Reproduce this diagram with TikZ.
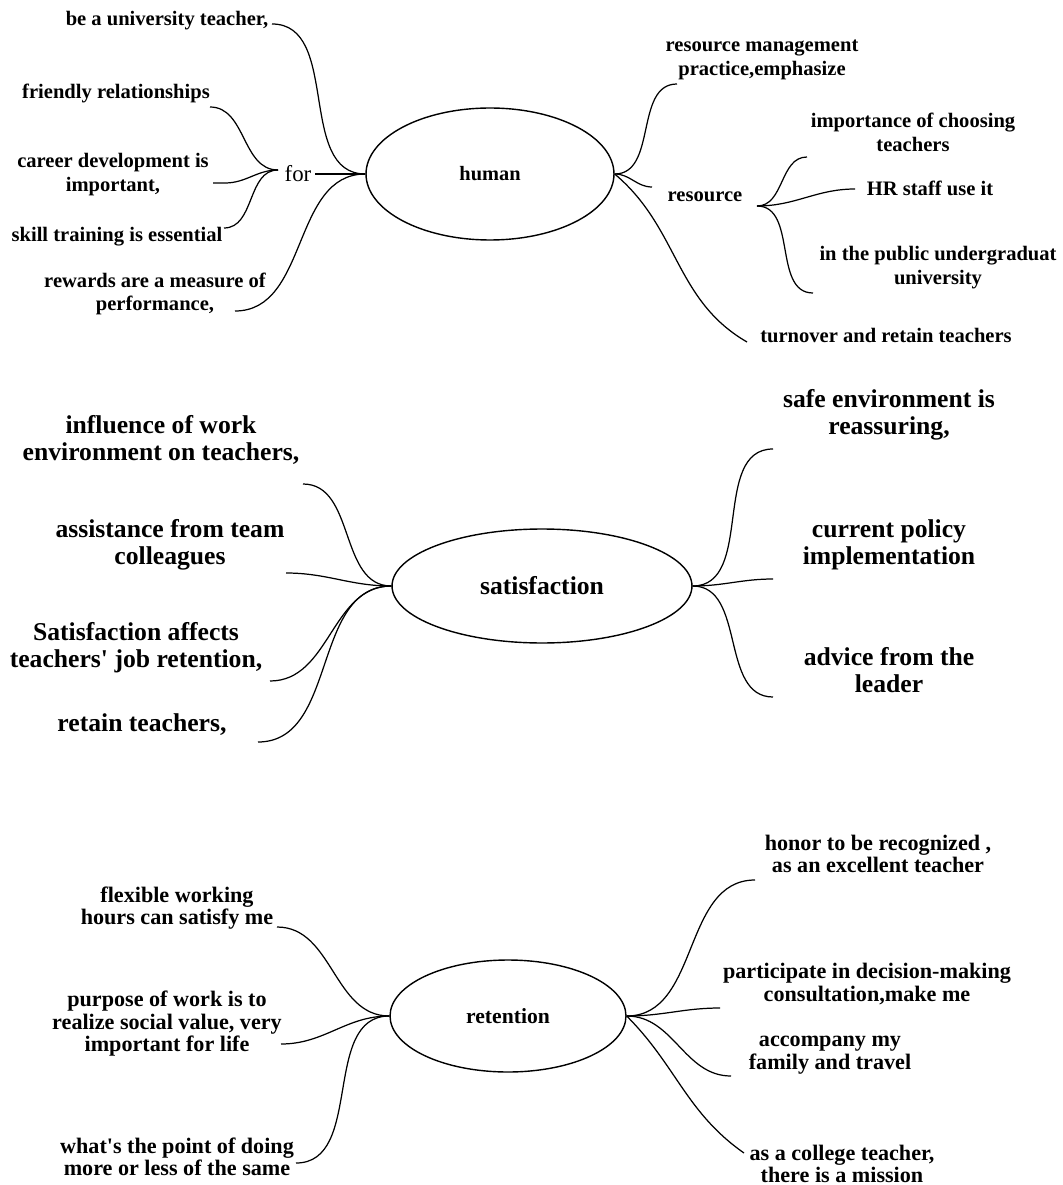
\documentclass[tikz,border=0pt]{standalone}
\usepackage{fontspec}
\setmainfont{Liberation Serif}
\usetikzlibrary{shapes.geometric}
\tikzset{
	hub/.style={draw, ellipse, line width=0.8pt, inner sep=0pt},
	leafA/.style={align=center, font=\fontsize{11.7}{13.6}\selectfont\bfseries},
	leafB/.style={align=center, font=\fontsize{14.6}{15.4}\selectfont\bfseries},
	leafC/.style={align=center, font=\fontsize{12.6}{12.8}\selectfont\bfseries},
	twig/.style={line width=0.7pt},
}

\begin{document}
\begin{tikzpicture}[x=0.02cm, y=-0.02cm]
		%%%%% START %%%%%
		\useasboundingbox (0, 0) rectangle (1062, 1185);
		
		% human
		\node[hub, minimum width=4.96cm, minimum height=2.64cm, font=\fontsize{11.6}{13}\selectfont\bfseries] (hum) at (490, 174) {human};
		
		\node[leafA] (hl1) at (167, 21) {be a university teacher,};
		\node[leafA] (hl2) at (116, 93) {friendly relationships};
		\node[leafA] (hl3) at (113, 175) {career development is\\important,};
		\node[leafA] (hl4) at (117, 237) {skill training is essential};
		\node[leafA] (hl5) at (155, 294) {rewards are a measure of\\performance,};
		\node[font=\fontsize{13}{15}\selectfont, inner sep=2pt] (for) at (298, 174) {for};
		
		\coordinate (e1) at (272, 24);
		\coordinate (e2) at (210, 107);
		\coordinate (e3) at (213, 183);
		\coordinate (e4) at (224, 228);
		\coordinate (e5) at (235, 311);
		\coordinate (fin) at (278, 170);
		
		\draw[twig] (e1) to[out=0, in=180] (hum.west);
		\draw[twig] (e5) to[out=0, in=180] (hum.west);
		\draw[twig] (e2) to[out=0, in=180] (fin);
		\draw[twig] (e3) -- ++(12, 0) to[out=0, in=180] (fin);
		\draw[twig] (e4) to[out=0, in=180] (fin);
		\draw[twig] (for.east) -- (hum.west);
		
		\node[leafA] (hr1) at (762, 60) {resource management\\practice,emphasize};
		\node[leafA] (res) at (705, 197) {resource};
		\node[leafA] (hr2) at (913, 132) {importance of choosing\\teachers};
		\node[leafA] (hr3) at (930, 188) {HR staff use it};
		\node[leafA] (hr4) at (938, 268) {in the public undergraduat\\university};
		\node[leafA] (hr5) at (886, 335) {turnover and retain teachers};
		
		\coordinate (f1) at (677, 84);
		\coordinate (f2) at (652, 187);
		\coordinate (f3) at (747, 342);
		\coordinate (rb) at (757, 206);
		\coordinate (g1) at (807, 157);
		\coordinate (g2) at (855, 189);
		\coordinate (g3) at (813, 293);
		
		\draw[twig] (hum.east) to[out=0, in=180] (f1);
		\draw[twig] (hum.east) to[out=0, in=180] (f2);
		\draw[twig] (hum.east) to[out=-40, in=150] (f3);
		\draw[twig] (rb) to[out=0, in=180] (g1);
		\draw[twig] (rb) to[out=0, in=180] (g2);
		\draw[twig] (rb) to[out=0, in=180] (g3);
		
		% satisfaction
		\node[hub, minimum width=6.0cm, minimum height=2.28cm, font=\fontsize{14.6}{16}\selectfont\bfseries] (sat) at (542, 586) {satisfaction};
		
		\node[leafB] (sl1) at (161, 440) {influence of work\\environment on teachers,};
		\node[leafB] (sl2) at (170, 545) {assistance from team\\colleagues};
		\node[leafB] (sl3) at (136, 648) {Satisfaction affects\\teachers\textquotesingle\ job retention,};
		\node[leafB] (sl4) at (142, 725) {retain teachers,};
		
		\coordinate (k1) at (303, 484);
		\coordinate (k2) at (286, 573);
		\coordinate (k3) at (270, 681);
		\coordinate (k4) at (258, 742);
		
		\draw[twig] (k1) to[out=0, in=180] (sat.west);
		\draw[twig] (k2) to[out=0, in=180] (sat.west);
		\draw[twig] (k3) to[out=0, in=180] (sat.west);
		\draw[twig] (k4) to[out=0, in=180] (sat.west);
		
		\node[leafB] (sr1) at (889, 415) {safe environment is\\reassuring,};
		\node[leafB] (sr2) at (889, 545) {current policy\\implementation};
		\node[leafB] (sr3) at (889, 670) {advice from the\\leader};
		
		\coordinate (p1) at (773, 449);
		\coordinate (p2) at (773, 579);
		\coordinate (p3) at (773, 697);
		
		\draw[twig] (sat.east) to[out=0, in=180] (p1);
		\draw[twig] (sat.east) to[out=0, in=180] (p2);
		\draw[twig] (sat.east) to[out=0, in=180] (p3);
		
		% retention
		\node[hub, minimum width=4.72cm, minimum height=2.24cm, font=\fontsize{12.3}{14}\selectfont\bfseries] (ret) at (508, 1016) {retention};
		
		\node[leafC] (rl1) at (177, 908) {flexible working\\hours can satisfy me};
		\node[leafC] (rl2) at (167, 1024) {purpose of work is to\\realize social value, very\\important for life};
		\node[leafC] (rl3) at (177, 1157) {what\textquotesingle s the point of doing\\more or less of the same};
		
		\coordinate (u1) at (277, 927);
		\coordinate (u2) at (281, 1044);
		\coordinate (u3) at (296, 1163);
		
		\draw[twig] (u1) to[out=0, in=180] (ret.west);
		\draw[twig] (u2) to[out=0, in=180] (ret.west);
		\draw[twig] (u3) to[out=0, in=180] (ret.west);
		
		\node[leafC] (rr1) at (878, 854) {honor to be recognized\ ,\\as an excellent teacher};
		\node[leafC] (rr2) at (867, 984) {participate in decision-making\\consultation,make me};
		\node[leafC] (rr3) at (830, 1055) {accompany my\\family and travel};
		\node[leafC] (rr4) at (842, 1164) {as a college teacher,\\there is a mission};
		
		\coordinate (v1) at (755, 880);
		\coordinate (v2) at (720, 1008);
		\coordinate (v3) at (731, 1076);
		\coordinate (v4) at (744, 1153);
		
		\draw[twig] (ret.east) to[out=0, in=180] (v1);
		\draw[twig] (ret.east) to[out=0, in=180] (v2);
		\draw[twig] (ret.east) to[out=0, in=180] (v3);
		\draw[twig] (ret.east) to[out=-45, in=145] (v4);
		
		%%%%% END %%%%%
\end{tikzpicture}
\end{document}
